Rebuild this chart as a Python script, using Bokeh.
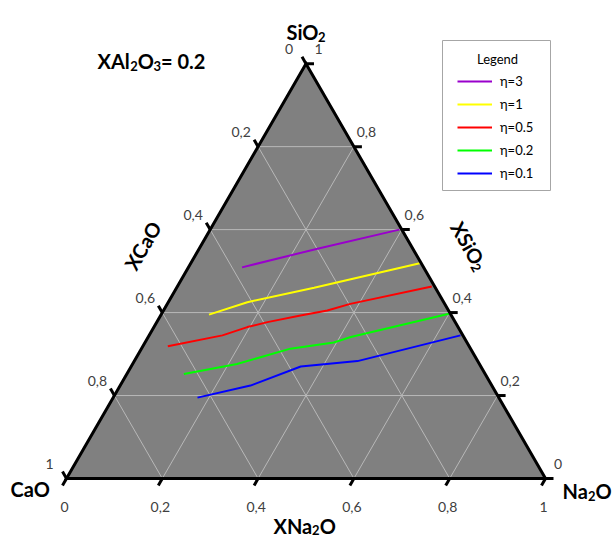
import numpy as np
from bokeh.plotting import figure
from bokeh.models import Range1d, Legend, LegendItem
from bokeh.core.properties import value
from bokeh.embed import file_html
from bokeh.resources import INLINE

# ---------------- data (ternary compositions: XNa2O, XSiO2; XCaO = 1 - both) ----------------
series_names = ["η=3", "η=1", "η=0.5", "η=0.2", "η=0.1"]
series_colors = ["#9900CC", "#FFFF00", "#FF0000", "#00FF00", "#0000FF"]

eta3_na2o = [0.112, 0.247, 0.395]
eta3_sio2 = [0.509, 0.554, 0.600]

eta1_na2o = [0.100, 0.165, 0.287, 0.478]
eta1_sio2 = [0.395, 0.425, 0.460, 0.519]

eta05_na2o = [0.052, 0.153, 0.195, 0.231, 0.292, 0.342, 0.382, 0.531]
eta05_sio2 = [0.319, 0.345, 0.365, 0.377, 0.393, 0.405, 0.421, 0.463]

eta02_na2o = [0.119, 0.218, 0.311, 0.394, 0.423, 0.600]
eta02_sio2 = [0.252, 0.276, 0.313, 0.328, 0.341, 0.397]

eta01_na2o = [0.176, 0.272, 0.354, 0.466, 0.650]
eta01_sio2 = [0.195, 0.224, 0.270, 0.283, 0.345]

tick_values = [0.0, 0.2, 0.4, 0.6, 0.8, 1.0]
tick_labels = ["0", "0,2", "0,4", "0,6", "0,8", "1"]
grid_values = [0.2, 0.4, 0.6, 0.8]

series_na2o = [eta3_na2o, eta1_na2o, eta05_na2o, eta02_na2o, eta01_na2o]
series_sio2 = [eta3_sio2, eta1_sio2, eta05_sio2, eta02_sio2, eta01_sio2]

# ---------------- geometry ----------------
R3 = np.sqrt(3) / 2


def tern(b, s):
    b = np.asarray(b, dtype=float)
    s = np.asarray(s, dtype=float)
    return b + s / 2, s * R3


W, H = 615, 539
SC = 479.0
X0 = -66 / SC
X1 = X0 + W / SC
Y1 = 478 / SC
Y0 = Y1 - H / SC


def P(px, py):
    """pixel -> data coordinates (layout helper for annotations)"""
    return X0 + px / SC, Y1 - py / SC


FONT = "Lato"

p = figure(width=W, height=H, output_backend="svg", toolbar_location=None,
           x_range=Range1d(X0, X1), y_range=Range1d(Y0, Y1),
           min_border=0, min_border_left=0, min_border_right=0,
           min_border_top=0, min_border_bottom=0)
p.axis.visible = False
p.xgrid.visible = False
p.ygrid.visible = False
p.outline_line_color = None
p.background_fill_color = "white"
p.border_fill_color = "white"

# triangle
tx, ty = tern([0, 1, 0], [0, 0, 1])
p.patch(list(tx), list(ty), fill_color="#808080", line_color=None)

# grid lines
gx0, gy0, gx1, gy1 = [], [], [], []
for v in grid_values:
    for (b0, s0, b1, s1) in [(0, v, 1 - v, v), (v, 0, v, 1 - v), (1 - v, 0, 0, 1 - v)]:
        a, c = tern(b0, s0)
        d, e = tern(b1, s1)
        gx0.append(float(a)); gy0.append(float(c)); gx1.append(float(d)); gy1.append(float(e))
p.segment(gx0, gy0, gx1, gy1, line_color="#b8b8b8", line_width=1)

# data lines
renderers = []
for nm, col, bb, ss in zip(series_names, series_colors, series_na2o, series_sio2):
    xx, yy = tern(bb, ss)
    r = p.line(list(xx), list(yy), line_color=col, line_width=2)
    renderers.append(r)

# triangle outline
p.patch(list(tx), list(ty), fill_color=None, line_color="black", line_width=3,
        line_join="miter")

# ticks
L = 8 / SC
tvals = np.array(tick_values)
bx, by = tern(tvals, 0 * tvals)                 # XNa2O axis (bottom)
lx, ly = tern(0 * tvals, 1 - tvals)             # XCaO axis (left)
rx, ry = tern(1 - tvals, tvals)                 # XSiO2 axis (right)
sx0 = list(bx) + list(lx) + list(rx)
sy0 = list(by) + list(ly) + list(ry)
sx1 = list(bx - 0.5 * L) + list(lx - 0.5 * L) + list(rx + L)
sy1 = list(by - R3 * L) + list(ly + R3 * L) + list(ry)
p.segment(sx0, sy0, sx1, sy1, line_color="black", line_width=3)

# tick labels
lab_kw = dict(text_font=value(FONT), text_font_size="14px", text_color="#404040",
              text_align="center", text_baseline="middle")
p.text(list(bx), list(by), text=tick_labels, x_offset=-2, y_offset=28, **lab_kw)
p.text(list(lx), list(ly), text=tick_labels, x_offset=-17, y_offset=-15, **lab_kw)
p.text(list(rx), list(ry), text=tick_labels, x_offset=12.5, y_offset=-15, **lab_kw)

# approximate Lato Bold advance widths (em)
ADV = {"X": 0.66, "A": 0.71, "l": 0.27, "O": 0.78, "S": 0.53, "i": 0.26, "N": 0.76,
       "a": 0.51, "C": 0.67, "=": 0.58, " ": 0.2, "0": 0.58, ".": 0.23, "2": 0.58,
       "3": 0.58}
BIG, SUB = 20, 13


def width(s, size):
    return sum(ADV.get(ch, 0.6) for ch in s) * size


def txt(px, py, s, size=BIG, bold=True, align="left", baseline="alphabetic",
        angle=0.0, color="black"):
    x, y = P(px, py)
    p.text([x], [y], text=[s], text_font=value(FONT), text_font_size=f"{size}px",
           text_font_style="bold" if bold else "normal", text_color=color,
           text_align=align, text_baseline=baseline, angle=angle)


def chain(px, py, pieces, angle=0.0, baseline="alphabetic", sub_shift=5.0):
    """pieces: list of (text, is_subscript); px,py = start of first piece"""
    ux, uy = np.cos(angle), -np.sin(angle)        # screen direction of reading
    dx, dy = np.sin(angle), np.cos(angle)         # screen 'down' of the text
    pos = 0.0
    for s, sub in pieces:
        size = SUB if sub else BIG
        shift = sub_shift if sub else 0.0
        x = px + ux * pos + dx * shift
        y = py + uy * pos + dy * shift
        txt(x, y, s, size=size, angle=angle, baseline=baseline)
        pos += width(s, size)


# title  XAl2O3= 0.2
chain(97, 60, [("XAl", False), ("2", True), ("O", False), ("3", True), ("= 0.2", False)])

# vertex labels
chain(286, 31, [("SiO", False), ("2", True)])
txt(10, 488, "CaO")
chain(562, 490, [("Na", False), ("2", True), ("O", False)])

# axis titles
chain(273, 525, [("XNa", False), ("2", True), ("O", False)], sub_shift=4.0)
txt(142, 245, "XCaO", align="center", baseline="middle", angle=np.pi / 3)
ang = -np.pi / 3
w0 = width("XSiO", BIG)
chain(467 - 0.5 * w0 * np.cos(ang), 242 + 0.5 * w0 * np.sin(ang),
      [("XSiO", False), ("2", True)], angle=ang, baseline="middle")

# legend box
lx0, ly0 = P(442, 190)
lx1, ly1 = P(550, 40)
p.quad(left=[lx0], right=[lx1], bottom=[ly0], top=[ly1], fill_color="white",
       line_color="#a6a6a6", line_width=1)
txt(497, 58, "Legend", size=13, bold=False, align="center", baseline="middle")

legend = Legend(items=[LegendItem(label=nm, renderers=[r]) for nm, r in zip(series_names, renderers)],
                location=(457, 356), glyph_width=35, glyph_height=20, label_height=20,
                spacing=3, padding=0, margin=0, border_line_color=None,
                background_fill_alpha=0, label_standoff=8,
                label_text_font=FONT, label_text_font_size="13px", label_text_color="black")
p.add_layout(legend)

open("out.html", "w").write(file_html(p, INLINE))
